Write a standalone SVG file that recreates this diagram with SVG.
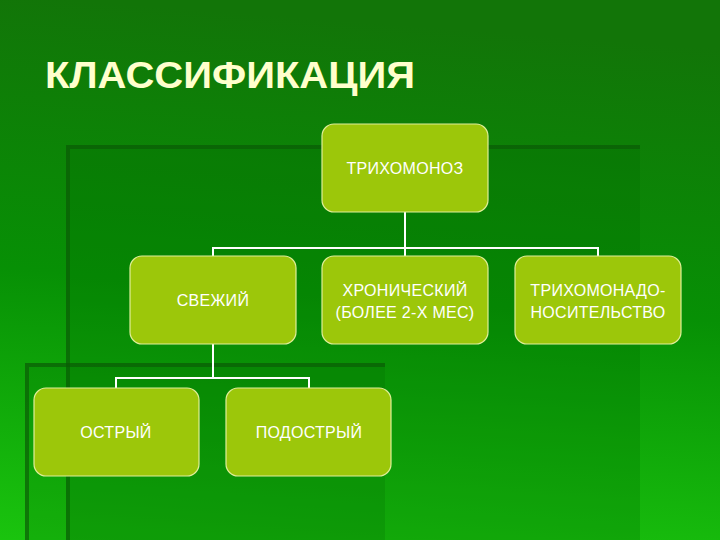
<svg xmlns="http://www.w3.org/2000/svg" width="720" height="540" viewBox="0 0 720 540">
<defs>
<linearGradient id="bg" x1="0.1" y1="0" x2="0" y2="1">
<stop offset="0" stop-color="#127508"/><stop offset="0.5" stop-color="#079005"/><stop offset="1" stop-color="#1ac40e"/>
</linearGradient>
<style>
.n rect{fill:#9cc70a;stroke:#e0ee9a;stroke-width:1.2}
.n text{font-family:"Liberation Sans",Arial,sans-serif;font-size:16px;fill:#ffffff;text-anchor:middle;letter-spacing:0.3px}
.c{stroke:#ffffff;stroke-width:2;fill:none}
</style>
</defs>
<rect width="720" height="540" fill="url(#bg)"/>
<path d="M640 147 H68 V540" stroke="#0a5a06" stroke-width="4" fill="none" opacity="0.7"/>
<rect x="70" y="149" width="570" height="391" fill="#006600" opacity="0.25"/>
<path d="M385 365 H27 V540" stroke="#0a5a06" stroke-width="4" fill="none" opacity="0.7"/>
<rect x="29" y="367" width="356" height="173" fill="#006600" opacity="0.2"/>
<text x="45" y="88" font-family="Liberation Sans,Arial,sans-serif" font-weight="bold" font-size="36" fill="#ffffcc" textLength="370" lengthAdjust="spacingAndGlyphs">КЛАССИФИКАЦИЯ</text>
<g id="connectors">
<path class="c" d="M405 212 V248 M213 256 V248 H598 V256 M405 248 V256"/>
<path class="c" d="M213 344 V378 M116 388 V378 H309 V388"/>
</g>
<g id="n1" class="n"><rect x="322" y="124" width="166" height="88" rx="12"/><text x="405" y="174">ТРИХОМОНОЗ</text></g>
<g id="n2" class="n"><rect x="130" y="256" width="166" height="88" rx="12"/><text x="213" y="306">СВЕЖИЙ</text></g>
<g id="n3" class="n"><rect x="322" y="256" width="166" height="88" rx="12"/><text x="405" y="296">ХРОНИЧЕСКИЙ</text><text x="405" y="318">(БОЛЕЕ 2-Х МЕС)</text></g>
<g id="n4" class="n"><rect x="515" y="256" width="166" height="88" rx="12"/><text x="598" y="296">ТРИХОМОНАДО-</text><text x="598" y="318">НОСИТЕЛЬСТВО</text></g>
<g id="n5" class="n"><rect x="34" y="388" width="165" height="88" rx="12"/><text x="116" y="438">ОСТРЫЙ</text></g>
<g id="n6" class="n"><rect x="226" y="388" width="165" height="88" rx="12"/><text x="309" y="438">ПОДОСТРЫЙ</text></g>
</svg>
